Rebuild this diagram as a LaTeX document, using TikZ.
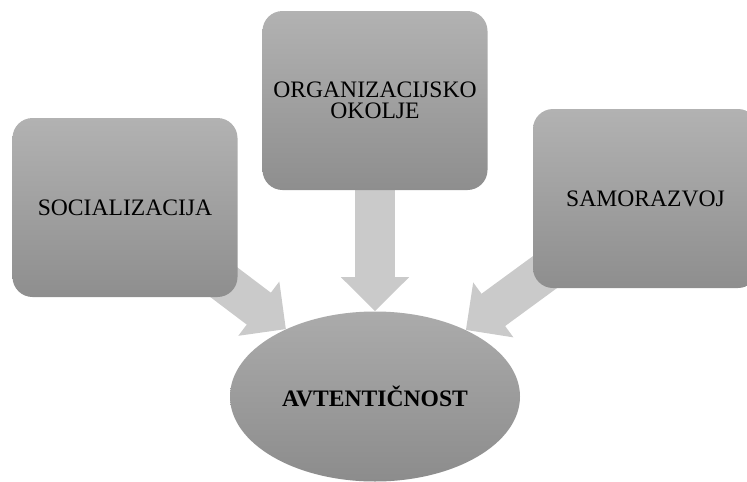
\documentclass[tikz,border=0pt]{standalone}
\usepackage{fontspec}
\setmainfont{Liberation Serif}
\usetikzlibrary{shapes.geometric,arrows.meta,backgrounds}

\definecolor{boxtop}{HTML}{B2B2B2}
\definecolor{boxbot}{HTML}{8E8E8E}
\definecolor{elltop}{HTML}{ABABAB}
\definecolor{ellbot}{HTML}{8C8C8C}
\definecolor{flow}{HTML}{CACACA}

\tikzset{
  factor/.style={rectangle, rounded corners=15pt, draw=none,
    top color=boxtop, bottom color=boxbot,
    minimum width=168.75pt, minimum height=134.25pt, inner sep=0pt,
    align=center, font=\fontsize{17.7}{15.8}\selectfont},
  core/.style={ellipse, draw=none, top color=elltop, bottom color=ellbot,
    minimum width=217.5pt, minimum height=127.5pt, inner sep=0pt,
    font=\fontsize{17.7}{20}\selectfont\bfseries},
  blockarrow/.style={draw=flow, line width=30pt,
    -{Triangle[length=25.5pt, width=49.5pt, fill=flow]}}
}

\begin{document}
\begin{tikzpicture}[x=0.75pt, y=-0.75pt]
  \path[use as bounding box, clip] (0,0) rectangle (747,482);

  \node[factor] (soc) at (125,207.5) {SOCIALIZACIJA};
  \node[factor] (org) at (375,100.5) {ORGANIZACIJSKO\\OKOLJE};
  \node[factor] (sam) at (645.5,198.5) {SAMORAZVOJ};
  \node[core]   (auth) at (375,396.5) {AVTENTIČNOST};

  % flow arrows run behind the boxes
  \begin{scope}[on background layer]
    \draw[blockarrow] (soc.center) -- (auth);
    \draw[blockarrow] (org.center) -- (auth);
    \draw[blockarrow] (sam.center) -- (auth);
  \end{scope}
\end{tikzpicture}
\end{document}
